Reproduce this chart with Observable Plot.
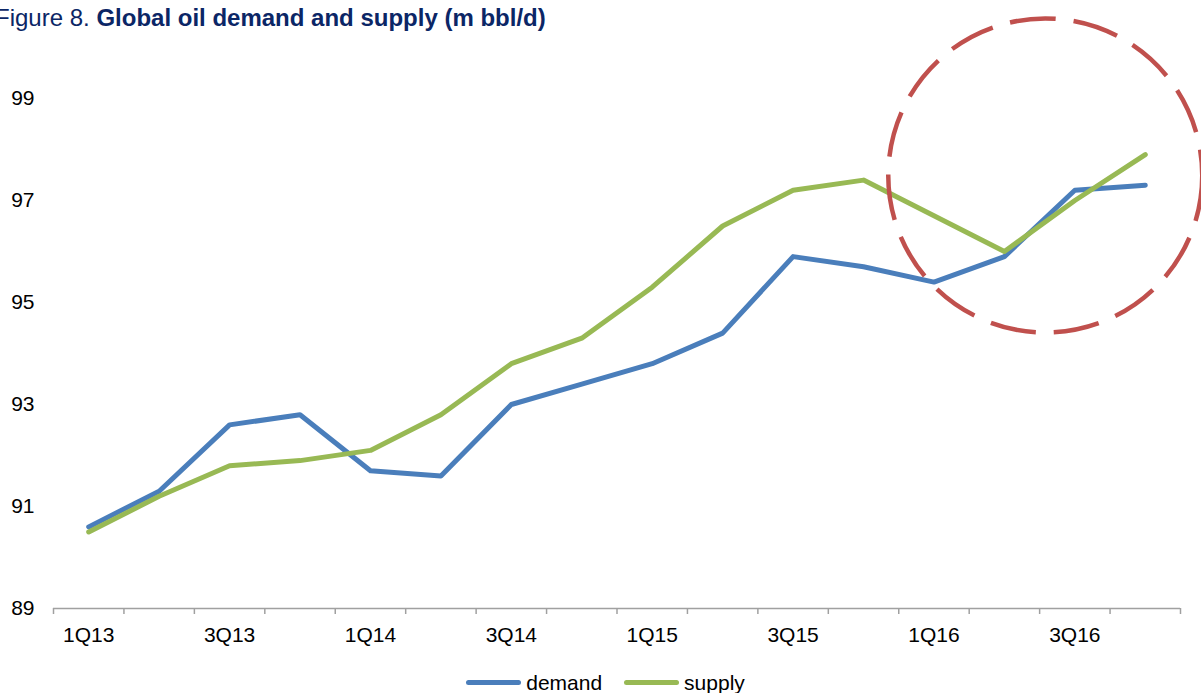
<!DOCTYPE html>
<html>
<head>
<meta charset="utf-8">
<script src="https://cdn.jsdelivr.net/npm/d3@7"></script>
<script src="https://cdn.jsdelivr.net/npm/@observablehq/plot@0.6"></script>
<style>
  html, body { margin: 0; padding: 0; background: #fff; overflow: hidden; }
  body { width: 1201px; height: 693px; font-family: "Liberation Sans", Arial, sans-serif; }
  #title { height: 40px; position: relative; white-space: nowrap; font-size: 24px; color: #0b2666; }
  #title span.t { position: absolute; left: -5px; top: 4px; }
  #title b { font-weight: bold; }
  #legend { display: flex; justify-content: center; align-items: center; height: 41px; font-size: 21px; color: #000; padding-left: 10px; padding-top: 20px; box-sizing: border-box; }
  .item { display: flex; align-items: center; margin: 0 11px; }
  .sw { width: 55px; height: 5px; border-radius: 3px; margin-right: 5px; }
</style>
</head>
<body>
<div id="title"><span class="t">Figure 8. <b>Global oil demand and supply (m bbl/d)</b></span></div>
<div id="chart"></div>
<div id="legend"></div>
<script>
const quarters = ["1Q13","2Q13","3Q13","4Q13","1Q14","2Q14","3Q14","4Q14","1Q15","2Q15","3Q15","4Q15","1Q16","2Q16","3Q16","4Q16"];
const demand = [90.6,91.3,92.6,92.8,91.7,91.6,93.0,93.4,93.8,94.4,95.9,95.7,95.4,95.9,97.2,97.3];
const supply = [90.5,91.2,91.8,91.9,92.1,92.8,93.8,94.3,95.3,96.5,97.2,97.4,96.7,96.0,97.0,97.9];
const yTicks = [89,91,93,95,97,99];
const seriesNames = ["demand","supply"];
const seriesColors = ["#4a7ebb","#98b954"];
// annotation circle: centre (quarter index, value), radius in px
const highlight = [{i: 13.58, v: 97.49}];

const rows = [];
quarters.forEach((q, i) => {
  rows.push({i, q, series: "demand", value: demand[i]});
  rows.push({i, q, series: "supply", value: supply[i]});
});
const boundaries = d3.range(quarters.length + 1).map(k => k - 0.5);
const labelIdx = d3.range(0, quarters.length, 2);

const chart = Plot.plot({
  width: 1201,
  height: 612,
  marginLeft: 53,
  marginRight: 21,
  marginTop: 58,
  marginBottom: 44,
  style: {fontFamily: "Liberation Sans, Arial, sans-serif", fontSize: "21px", color: "#000", overflow: "visible", background: "transparent"},
  x: {domain: [-0.5, quarters.length - 0.5], axis: null},
  y: {domain: [89, 99], axis: null},
  color: {domain: seriesNames, range: seriesColors},
  marks: [
    Plot.axisY(yTicks, {tickSize: 0, tickPadding: 19, fontSize: 21, fill: "#000", tickFormat: d => String(d), label: null}),
    Plot.ruleY([89], {stroke: "#a0a0a0", strokeWidth: 1.5}),
    Plot.axisX(boundaries, {tickSize: 6, tickFormat: () => "", stroke: "#a0a0a0", strokeWidth: 1.5, strokeOpacity: 1, label: null}),
    Plot.axisX(labelIdx, {tickSize: 0, tickPadding: 19, tickFormat: d => quarters[d], fontSize: 21, fill: "#000", label: null}),
    Plot.line(rows, {x: "i", y: "value", z: "series", stroke: "series", strokeWidth: 5, strokeLinejoin: "round", strokeLinecap: "round"}),
    Plot.dot(highlight, {x: "i", y: "v", r: 157, stroke: "#c0504d", strokeWidth: 4.5, fill: "none", strokeDasharray: "46,18", clip: false})
  ]
});
document.getElementById("chart").appendChild(chart);

const legend = document.getElementById("legend");
seriesNames.forEach((name, k) => {
  const item = document.createElement("div");
  item.className = "item";
  const sw = document.createElement("div");
  sw.className = "sw";
  sw.style.background = seriesColors[k];
  const label = document.createElement("span");
  label.textContent = name;
  item.appendChild(sw);
  item.appendChild(label);
  legend.appendChild(item);
});
</script>
</body>
</html>
